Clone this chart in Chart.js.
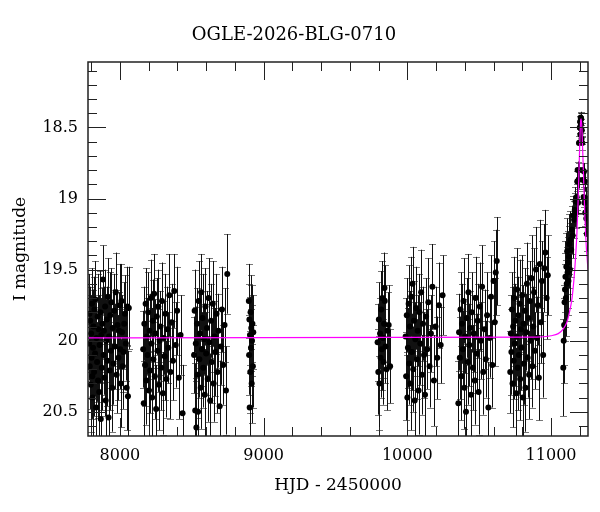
<!DOCTYPE html>
<html lang="en">
<head>
  <meta charset="UTF-8">
  <title>OGLE-2026-BLG-0710</title>
  <style>
    html, body { margin: 0; padding: 0; background: #fff; }
    canvas { display: block; }
  </style>
  <script src="https://cdn.jsdelivr.net/npm/chart.js"></script>
</head>
<body>
  <canvas id="lc" width="600" height="512"></canvas>

  <script>
    // ---- axis ticks ----
    const xTicks = [8000, 9000, 10000, 11000];
    const yTicks = [18.5, 19, 19.5, 20, 20.5];
    const xMinorStep = 200;
    const yMinorStep = 0.1;

    // ---- photometry, one array per season: [HJD-2450000, I mag, error] ----
    const season1 = [
      [7786, 20.02, 0.26], [7788, 19.81, 0.28], [7790, 20.18, 0.30], [7793, 19.86, 0.24], [7797, 20.31, 0.33],
      [7800, 19.95, 0.27], [7803, 20.12, 0.29], [7806, 19.74, 0.25], [7808, 20.25, 0.30], [7810, 20.40, 0.35],
      [7813, 20.05, 0.28], [7816, 19.90, 0.26], [7820, 20.22, 0.31], [7823, 19.78, 0.23],
      [7827, 20.09, 0.30], [7830, 19.71, 0.27], [7834, 20.47, 0.34], [7837, 19.98, 0.25],
      [7841, 20.15, 0.28], [7845, 19.83, 0.30], [7848, 20.28, 0.26], [7852, 19.92, 0.24],
      [7856, 20.36, 0.32], [7859, 20.03, 0.27], [7863, 19.80, 0.29], [7867, 20.55, 0.33],
      [7871, 19.96, 0.26], [7874, 20.19, 0.30], [7878, 19.88, 0.25], [7882, 19.57, 0.24],
      [7886, 20.10, 0.28], [7889, 19.93, 0.31], [7893, 20.26, 0.27], [7897, 19.76, 0.26],
      [7901, 20.42, 0.30], [7905, 20.00, 0.29], [7909, 19.85, 0.23], [7913, 20.14, 0.32],
      [7917, 19.69, 0.27], [7921, 20.54, 0.35], [7925, 19.97, 0.25], [7929, 20.21, 0.28],
      [7933, 19.82, 0.30], [7937, 20.07, 0.26], [7941, 19.73, 0.24], [7946, 20.33, 0.31],
      [7950, 19.91, 0.27], [7955, 20.16, 0.29], [7960, 19.79, 0.26], [7965, 20.04, 0.30],
      [7971, 19.66, 0.28], [7977, 20.24, 0.27], [7983, 19.89, 0.25], [7990, 20.12, 0.30],
      [7994, 19.93, 0.27], [7998, 19.75, 0.29], [8002, 20.06, 0.28], [8006, 20.30, 0.31],
      [8011, 19.72, 0.26], [8015, 19.94, 0.26], [8020, 20.18, 0.30], [8025, 20.08, 0.28],
      [8030, 19.88, 0.29], [8035, 19.81, 0.27], [8041, 20.02, 0.26], [8047, 20.33, 0.30],
      [8052, 19.76, 0.28], [8056, 20.39, 0.32], [8062, 19.77, 0.29]
    ];
    const season2 = [
      [8162, 20.06, 0.27], [8166, 20.44, 0.30], [8170, 19.88, 0.26], [8175, 20.17, 0.29],
      [8179, 19.74, 0.25], [8184, 20.28, 0.31], [8188, 19.97, 0.27], [8193, 20.10, 0.24],
      [8197, 19.80, 0.28], [8202, 20.35, 0.32], [8206, 19.93, 0.26], [8211, 20.21, 0.30],
      [8215, 19.70, 0.27], [8220, 20.02, 0.25], [8224, 20.40, 0.33], [8229, 19.86, 0.29],
      [8233, 20.13, 0.26], [8238, 19.67, 0.28], [8243, 20.25, 0.30], [8247, 19.95, 0.24],
      [8252, 20.48, 0.31], [8257, 19.83, 0.27], [8262, 20.07, 0.29], [8267, 19.76, 0.26],
      [8272, 20.31, 0.32], [8277, 20.00, 0.28], [8282, 19.90, 0.25], [8288, 20.19, 0.30],
      [8293, 19.72, 0.27], [8299, 20.37, 0.29], [8305, 19.98, 0.26], [8311, 20.11, 0.31],
      [8317, 19.81, 0.28], [8323, 20.27, 0.27], [8330, 19.92, 0.30], [8337, 20.05, 0.25],
      [8344, 19.68, 0.29], [8352, 20.22, 0.33], [8360, 19.87, 0.27], [8369, 20.14, 0.28],
      [8378, 19.65, 0.26], [8388, 20.03, 0.30], [8398, 19.79, 0.31], [8410, 20.26, 0.29],
      [8422, 19.96, 0.28], [8436, 20.51, 0.34]
    ];
    const season3 = [
      [8516, 20.10, 0.27], [8520, 19.79, 0.29], [8524, 20.49, 0.33], [8528, 20.02, 0.26],
      [8532, 20.61, 0.35], [8536, 19.88, 0.25], [8540, 20.24, 0.30], [8544, 20.50, 0.31],
      [8548, 19.72, 0.28], [8553, 20.13, 0.27], [8557, 19.95, 0.30], [8562, 20.33, 0.29],
      [8566, 19.66, 0.27], [8571, 20.06, 0.26], [8575, 19.84, 0.31], [8580, 20.19, 0.28],
      [8585, 19.99, 0.25], [8590, 20.38, 0.32], [8595, 19.76, 0.27], [8600, 20.09, 0.29],
      [8606, 19.91, 0.26], [8611, 20.27, 0.30], [8617, 19.70, 0.28], [8622, 20.01, 0.27],
      [8628, 20.42, 0.33], [8634, 19.86, 0.26], [8640, 20.15, 0.29], [8646, 19.74, 0.30],
      [8652, 20.30, 0.27], [8658, 19.97, 0.25], [8665, 20.08, 0.31], [8672, 19.81, 0.28],
      [8679, 20.22, 0.29], [8686, 19.93, 0.26], [8694, 20.46, 0.32], [8702, 20.04, 0.27],
      [8710, 19.78, 0.30], [8719, 20.17, 0.28], [8728, 19.89, 0.26], [8738, 20.35, 0.31],
      [8747, 19.53, 0.28]
    ];
    const season4 = [
      [8897, 19.72, 0.26], [8899, 20.10, 0.28], [8901, 19.85, 0.25], [8903, 20.47, 0.30],
      [8905, 19.96, 0.27], [8907, 20.22, 0.29], [8909, 19.80, 0.26], [8912, 20.05, 0.27],
      [8914, 19.91, 0.30], [8917, 20.30, 0.28], [8919, 20.00, 0.25], [8922, 19.88, 0.27],
      [8925, 20.18, 0.29], [8928, 19.94, 0.26]
    ];
    const season5 = [
      [9793, 20.01, 0.27], [9798, 20.22, 0.30], [9802, 19.85, 0.26], [9806, 20.30, 0.33],
      [9810, 19.95, 0.25], [9814, 20.12, 0.28], [9818, 19.78, 0.27], [9822, 20.06, 0.29],
      [9826, 19.70, 0.26], [9830, 19.98, 0.28], [9834, 20.15, 0.30], [9838, 19.88, 0.27],
      [9841, 19.63, 0.25], [9843, 19.72, 0.25], [9848, 20.04, 0.26], [9855, 20.20, 0.29],
      [9862, 19.93, 0.27], [9870, 19.89, 0.28], [9880, 20.18, 0.26]
    ];
    const season6 = [
      [9988, 19.97, 0.27], [9992, 20.25, 0.31], [9996, 19.82, 0.26], [10000, 20.40, 0.30],
      [10004, 20.05, 0.28], [10009, 19.74, 0.27], [10013, 20.16, 0.29], [10018, 19.90, 0.25],
      [10022, 20.30, 0.33], [10027, 19.69, 0.28], [10031, 20.08, 0.27], [10036, 19.60, 0.26],
      [10041, 20.20, 0.30], [10046, 19.86, 0.28], [10051, 20.42, 0.32], [10056, 19.99, 0.26],
      [10061, 19.77, 0.29], [10067, 20.13, 0.28], [10072, 19.93, 0.25], [10078, 20.35, 0.31],
      [10084, 19.80, 0.27], [10090, 20.02, 0.29], [10096, 19.66, 0.30], [10102, 20.24, 0.28],
      [10109, 19.88, 0.26], [10116, 20.10, 0.30], [10123, 20.38, 0.33], [10130, 19.83, 0.27],
      [10138, 20.06, 0.28], [10146, 19.73, 0.31], [10155, 20.18, 0.29], [10164, 19.95, 0.27],
      [10174, 19.62, 0.30], [10185, 20.28, 0.32], [10196, 19.90, 0.28], [10208, 20.12, 0.29],
      [10220, 19.75, 0.30], [10232, 20.03, 0.27], [10245, 19.68, 0.28]
    ];
    const season7 = [
      [10355, 20.44, 0.30], [10360, 19.94, 0.27], [10365, 20.12, 0.29], [10370, 19.78, 0.26],
      [10375, 20.25, 0.31], [10380, 19.88, 0.28], [10386, 20.06, 0.27], [10391, 19.72, 0.30],
      [10397, 20.33, 0.29], [10402, 19.97, 0.26], [10408, 20.50, 0.33], [10413, 19.84, 0.28],
      [10419, 20.15, 0.30], [10425, 19.66, 0.27], [10431, 20.03, 0.29], [10437, 19.91, 0.26],
      [10443, 20.38, 0.32], [10449, 19.80, 0.28], [10456, 20.19, 0.30], [10462, 19.95, 0.27],
      [10469, 20.28, 0.31], [10475, 19.70, 0.29], [10482, 20.09, 0.28], [10489, 19.86, 0.26],
      [10496, 20.36, 0.30], [10504, 19.76, 0.31], [10512, 20.00, 0.27], [10520, 19.62, 0.29],
      [10528, 20.22, 0.30], [10537, 19.92, 0.28], [10546, 20.13, 0.27], [10555, 19.82, 0.30],
      [10564, 20.47, 0.32], [10573, 19.98, 0.28], [10582, 19.69, 0.29], [10591, 20.17, 0.30],
      [10600, 19.58, 0.28], [10608, 19.87, 0.31], [10615, 19.52, 0.30], [10622, 19.44, 0.31]
    ];
    const season8 = [
      [10716, 20.22, 0.29], [10720, 19.95, 0.27], [10724, 20.08, 0.30], [10728, 19.78, 0.26],
      [10732, 20.30, 0.31], [10736, 19.90, 0.28], [10740, 20.14, 0.27], [10744, 19.70, 0.29],
      [10748, 20.02, 0.30], [10752, 19.86, 0.26], [10756, 20.37, 0.32], [10760, 19.97, 0.28],
      [10764, 19.64, 0.29], [10768, 20.19, 0.30], [10772, 19.82, 0.27], [10776, 20.10, 0.28],
      [10781, 19.74, 0.31], [10785, 20.27, 0.29], [10790, 19.92, 0.26], [10794, 20.05, 0.30],
      [10799, 19.68, 0.28], [10803, 20.40, 0.32], [10808, 19.88, 0.27], [10812, 20.16, 0.29],
      [10817, 19.79, 0.30], [10822, 20.33, 0.31], [10827, 19.94, 0.27], [10832, 19.60, 0.29],
      [10837, 20.12, 0.28], [10842, 19.84, 0.30], [10847, 20.24, 0.31], [10853, 19.72, 0.28],
      [10858, 20.00, 0.27], [10864, 19.56, 0.30], [10870, 20.18, 0.29], [10876, 19.90, 0.28],
      [10882, 19.66, 0.31], [10888, 20.07, 0.27], [10895, 19.50, 0.30], [10901, 19.98, 0.29],
      [10908, 19.75, 0.28], [10915, 20.26, 0.30], [10922, 19.46, 0.31], [10929, 19.87, 0.29],
      [10937, 19.58, 0.28], [10945, 20.10, 0.30], [10953, 19.49, 0.31], [10961, 19.38, 0.30],
      [10969, 19.70, 0.29], [10977, 19.54, 0.28]
    ];
    const season9 = [
      [11085, 20.19, 0.34], [11088, 20.00, 0.30], [11091, 19.89, 0.28], [11094, 19.73, 0.27],
      [11097, 19.64, 0.26], [11100, 19.55, 0.25], [11103, 19.70, 0.27], [11106, 19.48, 0.24],
      [11109, 19.60, 0.26], [11112, 19.37, 0.23], [11115, 19.52, 0.25], [11118, 19.45, 0.22],
      [11121, 19.58, 0.24], [11124, 19.41, 0.22], [11127, 19.32, 0.21], [11131, 19.50, 0.22],
      [11135, 19.29, 0.20], [11140, 19.36, 0.19], [11145, 19.22, 0.17], [11150, 19.26, 0.16],
      [11155, 19.12, 0.14], [11160, 19.15, 0.13], [11165, 19.08, 0.12], [11170, 19.02, 0.10],
      [11174, 19.10, 0.11], [11178, 18.99, 0.09], [11182, 18.88, 0.07], [11185, 18.80, 0.06],
      [11188, 19.03, 0.08], [11191, 18.87, 0.06], [11194, 18.61, 0.05], [11197, 18.80, 0.05],
      [11200, 18.50, 0.04], [11202, 18.46, 0.04], [11204, 18.55, 0.04], [11206, 18.43, 0.04],
      [11208, 18.48, 0.04], [11210, 18.44, 0.04], [11212, 18.58, 0.04], [11214, 18.52, 0.05],
      [11217, 18.61, 0.05], [11220, 18.80, 0.05], [11223, 18.87, 0.06], [11226, 18.99, 0.07],
      [11229, 18.81, 0.06], [11232, 19.03, 0.08], [11235, 18.88, 0.07], [11238, 19.10, 0.09],
      [11241, 19.00, 0.08], [11245, 19.14, 0.10], [11249, 19.25, 0.12], [11253, 19.08, 0.10]
    ];

    // ---- model curve ----
    const modelHjd = [7778, 10900, 11000, 11050, 11083, 11110, 11130, 11146, 11160, 11170,
                      11180, 11188, 11195, 11201, 11206, 11210, 11215, 11222, 11229, 11236,
                      11243, 11250, 11257];
    const modelMag = [19.98, 19.975, 19.965, 19.95, 19.92, 19.87, 19.79, 19.70, 19.56, 19.42,
                      19.24, 19.02, 18.78, 18.57, 18.45, 18.44, 18.52, 18.72, 18.94, 19.14,
                      19.30, 19.41, 19.50];

    const seasons = [season1, season2, season3, season4, season5, season6, season7, season8, season9];
    const photometry = seasons.flat();

    const serif = "'DejaVu Serif', 'Liberation Serif', serif";

    // error bars under the points
    const errorBars = {
      id: "errorBars",
      beforeDatasetsDraw(chart) {
        const { ctx, chartArea: a, scales: { x, y } } = chart;
        ctx.save();
        ctx.beginPath();
        ctx.rect(a.left, a.top, a.right - a.left, a.bottom - a.top);
        ctx.clip();
        ctx.lineWidth = 1;
        // caps first, lighter
        ctx.strokeStyle = "#777";
        ctx.beginPath();
        photometry.forEach(([t, m, e]) => {
          const px = Math.round(x.getPixelForValue(t)) + 0.5;
          const y1 = Math.round(y.getPixelForValue(m - e)) + 0.5;
          const y2 = Math.round(y.getPixelForValue(m + e)) + 0.5;
          ctx.moveTo(px - 3.5, y1); ctx.lineTo(px + 3.5, y1);
          ctx.moveTo(px - 3.5, y2); ctx.lineTo(px + 3.5, y2);
        });
        ctx.stroke();
        ctx.strokeStyle = "#111";
        ctx.beginPath();
        photometry.forEach(([t, m, e]) => {
          const px = Math.round(x.getPixelForValue(t)) + 0.5;
          ctx.moveTo(px, y.getPixelForValue(m - e));
          ctx.lineTo(px, y.getPixelForValue(m + e));
        });
        ctx.stroke();
        ctx.restore();
      }
    };

    // frame with inward ticks on all four sides
    const frame = {
      id: "frame",
      afterDraw(chart) {
        const { ctx, chartArea: a, scales: { x, y } } = chart;
        ctx.save();
        ctx.strokeStyle = "#222";
        ctx.lineWidth = 1;
        ctx.beginPath();
        for (let v = Math.ceil(x.min / xMinorStep) * xMinorStep; v <= x.max; v += xMinorStep) {
          const len = xTicks.includes(v) ? 18 : 9;
          const px = Math.round(x.getPixelForValue(v)) + 0.5;
          ctx.moveTo(px, a.bottom); ctx.lineTo(px, a.bottom - len);
          ctx.moveTo(px, a.top); ctx.lineTo(px, a.top + len);
        }
        for (let i = Math.ceil(y.min / yMinorStep); i * yMinorStep <= y.max + 1e-9; i++) {
          const v = +(i * yMinorStep).toFixed(1);
          const len = yTicks.includes(v) ? 18 : 9;
          const py = Math.round(y.getPixelForValue(v)) + 0.5;
          ctx.moveTo(a.left, py); ctx.lineTo(a.left + len, py);
          ctx.moveTo(a.right, py); ctx.lineTo(a.right - len, py);
        }
        ctx.stroke();
        ctx.lineWidth = 1.5;
        ctx.strokeRect(a.left, a.top, a.right - a.left, a.bottom - a.top);
        ctx.restore();
      }
    };

    new Chart("lc", {
      data: {
        datasets: [
          {
            type: "line",
            label: "model",
            data: modelHjd.map((t, i) => ({ x: t, y: modelMag[i] })),
            borderColor: "#ff00ff",
            borderWidth: 1.2,
            pointRadius: 0,
            cubicInterpolationMode: "monotone",
            fill: false
          },
          {
            type: "scatter",
            label: "OGLE",
            data: photometry.map(([t, m]) => ({ x: t, y: m })),
            backgroundColor: "#000",
            borderWidth: 0,
            pointRadius: 3
          }
        ]
      },
      options: {
        responsive: false,
        animation: false,
        layout: { padding: { left: 0, right: 12, top: 0, bottom: 0 } },
        plugins: {
          legend: { display: false },
          tooltip: { enabled: false },
          title: {
            display: true,
            text: "OGLE-2026-BLG-0710",
            color: "#000",
            font: { family: serif, size: 18, weight: "normal" },
            padding: { top: 25, bottom: 15.4 }
          }
        },
        scales: {
          x: {
            type: "linear",
            min: 7778,
            max: 11257,
            grid: { display: false, drawTicks: false },
            border: { display: false },
            afterBuildTicks: s => { s.ticks = xTicks.map(v => ({ value: v })); },
            afterFit: s => { s.height = 76; },
            ticks: {
              color: "#000",
              padding: 10,
              maxRotation: 0,
              font: { family: serif, size: 16 },
              callback: v => String(v)
            },
            title: {
              display: true,
              text: "HJD - 2450000",
              color: "#000",
              font: { family: serif, size: 17 },
              padding: { top: 0, bottom: 16 }
            }
          },
          y: {
            type: "linear",
            reverse: true,
            min: 18.04,
            max: 20.67,
            grid: { display: false, drawTicks: false },
            border: { display: false },
            afterBuildTicks: s => { s.ticks = yTicks.map(v => ({ value: v })); },
            afterFit: s => { s.width = 88; },
            ticks: {
              color: "#000",
              padding: 10,
              font: { family: serif, size: 16 },
              callback: v => String(v)
            },
            title: {
              display: true,
              text: "I magnitude",
              color: "#000",
              font: { family: serif, size: 17 },
              padding: { top: 10, bottom: 0 }
            }
          }
        }
      },
      plugins: [errorBars, frame]
    });
  </script>
</body>
</html>
